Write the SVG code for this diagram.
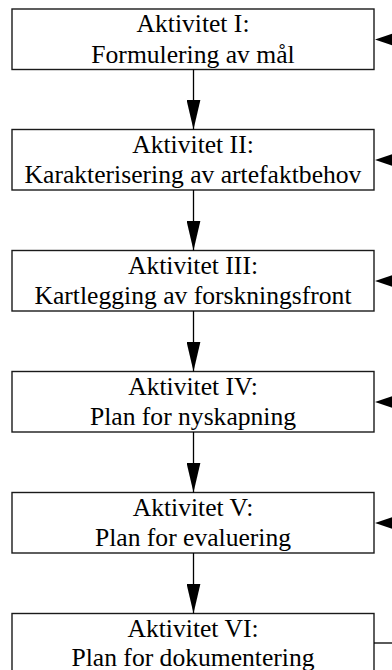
<svg xmlns="http://www.w3.org/2000/svg" width="392" height="670" viewBox="0 0 392 670">
  <style>
    .box { fill: #fff; stroke: #1a1a1a; stroke-width: 1.4; }
    .lbl { font-family: 'Liberation Serif', 'Times New Roman', Times, serif; font-size: 25.6px; fill: #000; text-anchor: middle; }
    .flow { stroke: #000; stroke-width: 1.3; fill: none; }
    .head { fill: #000; stroke: none; }
  </style>
  <defs>
    <marker id="arrowDown" markerWidth="14" markerHeight="30" refX="7" refY="30" orient="0" markerUnits="userSpaceOnUse">
      <polygon points="0,0 14,0 7,30" fill="#000"/>
    </marker>
  </defs>

  <!-- activity boxes, stacked top to bottom -->
  <g id="aktivitet-1">
    <rect class="box" x="12" y="9" width="362" height="60.5"/>
    <text class="lbl" x="193" y="32">Aktivitet I:</text>
    <text class="lbl" x="193" y="62.5">Formulering av mål</text>
  </g>
  <g id="aktivitet-2">
    <rect class="box" x="12" y="129.5" width="362" height="60.5"/>
    <text class="lbl" x="193" y="152.5">Aktivitet II:</text>
    <text class="lbl" x="193" y="183">Karakterisering av artefaktbehov</text>
  </g>
  <g id="aktivitet-3">
    <rect class="box" x="12" y="250.5" width="362" height="60.5"/>
    <text class="lbl" x="193" y="273.5">Aktivitet III:</text>
    <text class="lbl" x="193" y="304">Kartlegging av forskningsfront</text>
  </g>
  <g id="aktivitet-4">
    <rect class="box" x="12" y="371.5" width="362" height="60.5"/>
    <text class="lbl" x="193" y="394.5">Aktivitet IV:</text>
    <text class="lbl" x="193" y="425">Plan for nyskapning</text>
  </g>
  <g id="aktivitet-5">
    <rect class="box" x="12" y="492.5" width="362" height="60.5"/>
    <text class="lbl" x="193" y="515.5">Aktivitet V:</text>
    <text class="lbl" x="193" y="546">Plan for evaluering</text>
  </g>
  <g id="aktivitet-6">
    <rect class="box" x="12" y="613.5" width="362" height="70"/>
    <text class="lbl" x="193" y="636.5">Aktivitet VI:</text>
    <text class="lbl" x="193" y="666">Plan for dokumentering</text>
  </g>

  <!-- connectors -->
  <g id="connectors">
    <!-- downward flow between activities -->
    <line class="flow" x1="193.5" y1="69.5" x2="193.5" y2="129.5" marker-end="url(#arrowDown)"/>
    <line class="flow" x1="193.5" y1="190" x2="193.5" y2="250.5" marker-end="url(#arrowDown)"/>
    <line class="flow" x1="193.5" y1="311" x2="193.5" y2="371.5" marker-end="url(#arrowDown)"/>
    <line class="flow" x1="193.5" y1="432" x2="193.5" y2="492.5" marker-end="url(#arrowDown)"/>
    <line class="flow" x1="193.5" y1="553" x2="193.5" y2="613.5" marker-end="url(#arrowDown)"/>

    <!-- feedback arrows entering each box from the right -->
    <polygon class="head" points="375,39.5 393,33.5 393,45.5"/>
    <polygon class="head" points="375,160 393,154 393,166"/>
    <polygon class="head" points="375,281 393,275 393,287"/>
    <polygon class="head" points="375,402 393,396 393,408"/>
    <polygon class="head" points="375,523 393,517 393,529"/>
    <!-- outgoing feedback line from the last activity -->
    <line class="flow" x1="374" y1="643" x2="392" y2="643"/>
  </g>
</svg>
